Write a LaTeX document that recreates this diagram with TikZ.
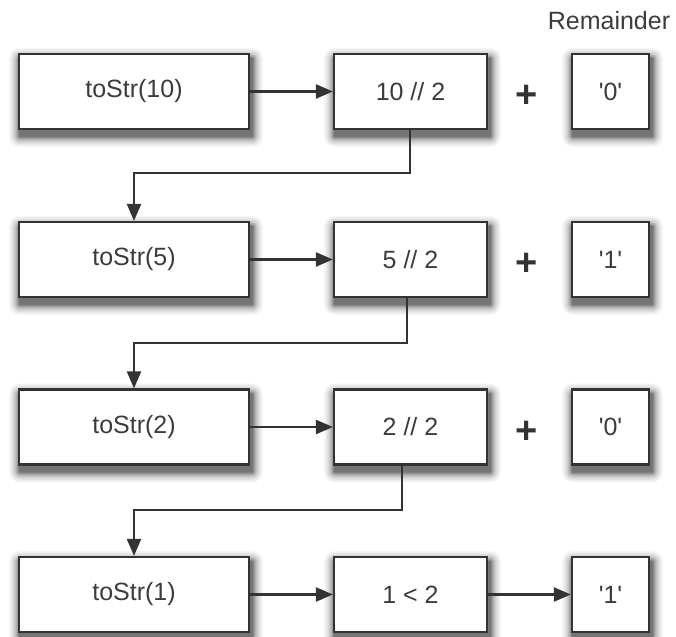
\documentclass[tikz,border=0pt]{standalone}
\usepackage{fontspec}
\setmainfont{Liberation Sans}
\usetikzlibrary{arrows.meta,backgrounds}
\definecolor{ink}{HTML}{333333}
\definecolor{txt}{HTML}{3C3C3C}
\tikzset{
  box/.style={draw=ink, line width=2.2pt, fill=white, minimum height=75pt,
    inner sep=0pt, font=\fontsize{25}{28}\selectfont, text=txt},
  lbox/.style={box, minimum width=230pt},
  mbox/.style={box, minimum width=153pt},
  rbox/.style={box, minimum width=77pt},
  conn/.style={draw=ink, line width=2.2pt, -{Triangle[length=17pt,width=14pt]}},
  plussign/.style={font=\fontsize{38}{38}\selectfont\bfseries, text=ink, inner sep=0pt},
  label/.style={font=\fontsize{25}{28}\selectfont, text=txt, inner sep=0pt}
}
\newcommand\myshadow[1]{%
  \foreach \rr/\cc in {11/3,10/5,9/8,8/11,7/15,6/19,5/24,4/30,3/37,2/45,1/54}{%
    \fill[black!\cc, rounded corners=\rr pt]
      ([xshift=2pt-\rr pt, yshift=-6pt-\rr pt]#1.south west) rectangle
      ([xshift=2pt+\rr pt, yshift=-6pt+\rr pt]#1.north east);}}
\begin{document}
\begin{tikzpicture}[x=1pt,y=1pt]
\useasboundingbox (0,0) rectangle (676,-636);
\node[label] (rem) at (609,-21) {Remainder};
% row 1
\node[lbox] (l1) at (134,-91.5) {toStr(10)};
\node[mbox] (m1) at (410.5,-91.5) {10 // 2};
\node[rbox] (r1) at (610.5,-91.5) {\textquotesingle 0\textquotesingle};
\node[plussign] (p1) at (527,-96) {+};
% row 2
\node[lbox] (l2) at (134,-259.5) {toStr(5)};
\node[mbox] (m2) at (410.5,-259.5) {5 // 2};
\node[rbox] (r2) at (610.5,-259.5) {\textquotesingle 1\textquotesingle};
\node[plussign] (p2) at (527,-264) {+};
% row 3
\node[lbox] (l3) at (134,-427) {toStr(2)};
\node[mbox] (m3) at (410.5,-427) {2 // 2};
\node[rbox] (r3) at (610.5,-427) {\textquotesingle 0\textquotesingle};
\node[plussign] (p3) at (527,-432) {+};
% row 4
\node[lbox] (l4) at (134,-594.5) {toStr(1)};
\node[mbox] (m4) at (410.5,-594.5) {1 < 2};
\node[rbox] (r4) at (610.5,-594.5) {\textquotesingle 1\textquotesingle};
% shadows
\begin{scope}[on background layer]
\foreach \nn in {l1,m1,r1,l2,m2,r2,l3,m3,r3,l4,m4,r4}{\myshadow{\nn}}
\end{scope}
% connectors
\draw[conn] (l1.east) -- (m1.west);
\draw[conn] (l2.east) -- (m2.west);
\draw[conn] (l3.east) -- (m3.west);
\draw[conn] (l4.east) -- (m4.west);
\draw[conn] (m4.east) -- (r4.west);
\coordinate (k1) at (410,-173);
\coordinate (k2) at (407,-343);
\coordinate (k3) at (402,-510);
\draw[conn] (m1.south -| k1) -- (k1) -| (l2.north);
\draw[conn] (m2.south -| k2) -- (k2) -| (l3.north);
\draw[conn] (m3.south -| k3) -- (k3) -| (l4.north);
\end{tikzpicture}
\end{document}
